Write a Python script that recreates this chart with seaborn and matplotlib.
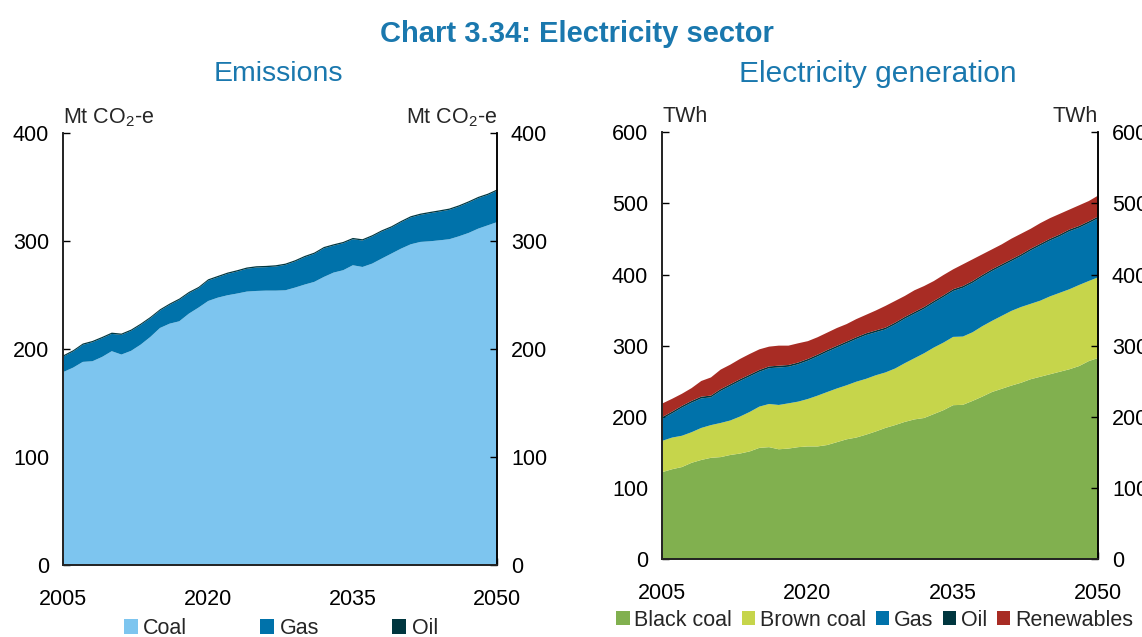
import matplotlib
matplotlib.use("Agg")
import matplotlib.pyplot as plt
from matplotlib import font_manager
from matplotlib.patches import Patch
import seaborn as sns

# ---- data -------------------------------------------------------------
years = list(range(2005, 2051))

# Emissions, Mt CO2-e
em_coal = [179.3, 183.3, 188.6, 189.2, 193.2, 198.5, 195.4, 198.8, 204.6, 211.7,
           220.0, 224.0, 226.2, 233.3, 238.9, 245.0, 248.1, 250.3, 251.9, 253.7,
           254.3, 254.6, 254.6, 254.9, 257.4, 260.2, 262.7, 267.3, 271.3, 273.5,
           278.1, 276.5, 279.6, 284.3, 288.9, 293.5, 297.5, 299.7, 300.3, 301.2,
           302.2, 304.9, 308.0, 312.0, 315.1, 318.2]
em_gas = [14.3, 14.9, 15.8, 17.6, 17.3, 16.0, 18.2, 18.5, 18.2, 17.3,
          16.1, 17.4, 19.8, 18.9, 17.9, 18.9, 18.9, 19.8, 20.4, 21.1,
          21.7, 21.7, 22.3, 23.5, 24.1, 25.3, 25.9, 26.5, 25.0, 25.0,
          24.1, 24.5, 25.1, 25.0, 24.1, 24.4, 24.8, 25.0, 26.0, 26.6,
          27.2, 27.5, 28.1, 28.2, 28.1, 29.1]
em_oil = [1.2] * 46

# Electricity generation, TWh
gen_black = [123, 127, 130, 136, 140, 143, 144, 147, 149, 152,
             157, 158, 155, 156, 158, 159, 159, 161, 165, 169,
             171.5, 175.5, 180, 185, 189, 193.5, 197, 199, 204.5, 210,
             217, 217.5, 223, 229, 235.5, 240, 244.5, 248.5, 253.5, 257,
             260.5, 264, 267.5, 272, 279, 283.5]
gen_brown = [44, 44.5, 44, 43, 45, 46, 48, 48.5, 52, 55.5,
             58, 60.7, 62.3, 63.6, 64, 66.7, 71.4, 74.5, 75.5, 76,
             78.5, 78.5, 79, 78, 79.5, 82.5, 86, 91, 93.5, 95,
             96, 96, 96.5, 99, 100, 102.5, 105, 106.5, 106, 107,
             109.5, 111, 112.5, 114, 112.6, 113.5]
gen_gas = [31, 34, 39.5, 41.5, 41.5, 39, 45, 48.5, 50, 50,
           49, 50.3, 52.7, 51.4, 52.5, 53.8, 55.1, 56.5, 57.5, 59,
           60, 61.5, 60.5, 60.5, 62, 62.5, 62.5, 62.5, 63, 64,
           64.5, 68.5, 69.5, 69.5, 70, 70, 70, 71.5, 75, 77.5,
           78.5, 79.5, 81.5, 80.5, 81.4, 83]
gen_oil = [2.5] * 46
gen_renew = [19, 18, 17, 18, 22, 25.5, 27.5, 27.5, 28.5, 29,
             29, 27.8, 28.2, 27.2, 27, 25, 24.5, 24.5, 25, 24.5,
             25.5, 26, 28, 30.5, 30.5, 29.5, 30.5, 29.5, 28, 28.5,
             28, 30.5, 30.5, 29, 28, 28, 29, 29, 28, 29,
             29, 29, 28, 29, 28.5, 29.5]

em_labels = ["Coal", "Gas", "Oil"]
gen_labels = ["Black coal", "Brown coal", "Gas", "Oil", "Renewables"]
x_ticks = [2005, 2020, 2035, 2050]

# ---- style ------------------------------------------------------------
sns.set_theme(style="ticks")
available = {f.name for f in font_manager.fontManager.ttflist}
body_font = "Liberation Sans" if "Liberation Sans" in available else "DejaVu Sans"
head_font = "Liberation Sans Narrow" if "Liberation Sans Narrow" in available else body_font
plt.rcParams["font.family"] = [body_font, "DejaVu Sans"]
plt.rcParams["mathtext.fontset"] = "custom"
plt.rcParams["mathtext.rm"] = body_font

C_LIGHT = "#7DC5EF"
C_GAS = "#0072AA"
C_OIL = "#00363F"
C_BLACK = "#81B04F"
C_BROWN = "#C6D54B"
C_RENEW = "#A82C24"
C_HEAD = "#1A78AE"

FS = 15.5

fig = plt.figure(figsize=(11.42, 6.37), dpi=100)
ax1 = fig.add_axes([0.0552, 0.113, 0.3800, 0.678])
ax2 = fig.add_axes([0.5797, 0.1224, 0.3818, 0.670])

ax1.stackplot(years, em_coal, em_gas, em_oil,
              colors=[C_LIGHT, C_GAS, C_OIL], linewidth=0)
ax2.stackplot(years, gen_black, gen_brown, gen_gas, gen_oil, gen_renew,
              colors=[C_BLACK, C_BROWN, C_GAS, C_OIL, C_RENEW], linewidth=0)


def style_axes(ax, ymax, step, unit):
    ax.set_xlim(2005, 2050)
    ax.set_ylim(0, ymax)
    ax.set_xticks(x_ticks)
    ax.set_yticks(range(0, ymax + 1, step))
    ax.tick_params(axis="y", direction="in", length=5, width=1, pad=10,
                   labelsize=FS, colors="black")
    ax.tick_params(axis="x", direction="in", length=5, width=1, pad=17,
                   labelsize=FS, colors="black")
    ax.spines["top"].set_visible(False)
    for s in ("left", "bottom", "right"):
        ax.spines[s].set_color("black")
        ax.spines[s].set_linewidth(1.1)
    twin = ax.twinx()
    twin.set_ylim(0, ymax)
    twin.set_yticks(range(0, ymax + 1, step))
    twin.tick_params(axis="y", direction="in", length=5, width=1, pad=10,
                     labelsize=FS, colors="black")
    twin.spines["top"].set_visible(False)
    twin.spines["right"].set_color("black")
    twin.spines["right"].set_linewidth(1.1)
    ax.text(0.0, 1.023, unit, transform=ax.transAxes, ha="left",
            va="baseline", fontsize=FS)
    ax.text(1.0, 1.023, unit, transform=ax.transAxes, ha="right",
            va="baseline", fontsize=FS)


style_axes(ax1, 400, 100, r"Mt CO$_\mathregular{2}$-e")
style_axes(ax2, 600, 100, "TWh")

# ---- headings ---------------------------------------------------------
fig.text(0.505, 0.947, "Chart 3.34: Electricity sector", ha="center",
         va="center", fontsize=21, fontweight="bold", color=C_HEAD,
         family=[head_font, "DejaVu Sans"])
fig.text(0.244, 0.884, "Emissions", ha="center", va="center",
         fontsize=20.5, color=C_HEAD, family=[head_font, "DejaVu Sans"])
fig.text(0.769, 0.884, "Electricity generation", ha="center", va="center",
         fontsize=21.5, color=C_HEAD, family=[head_font, "DejaVu Sans"])

# ---- legends ----------------------------------------------------------
h1 = [Patch(facecolor=c, edgecolor="none") for c in (C_LIGHT, C_GAS, C_OIL)]
fig.legend(h1, em_labels, loc="center", bbox_to_anchor=(0.246, 0.013),
           ncol=3, frameon=False, fontsize=FS, handlelength=0.65,
           handleheight=0.65, handletextpad=0.25, columnspacing=3.4)

h2 = [Patch(facecolor=c, edgecolor="none")
      for c in (C_BLACK, C_BROWN, C_GAS, C_OIL, C_RENEW)]
fig.legend(h2, gen_labels, loc="center", bbox_to_anchor=(0.766, 0.026),
           ncol=5, frameon=False, fontsize=FS, handlelength=0.62,
           handleheight=0.62, handletextpad=0.22, columnspacing=0.45)

fig.savefig("out.png", dpi=100)
